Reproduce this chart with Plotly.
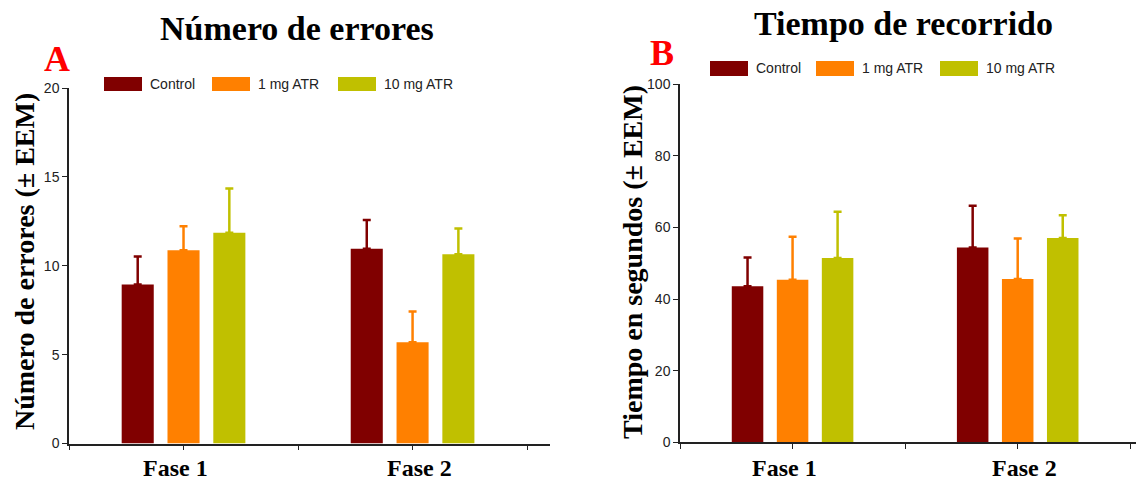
import plotly.graph_objects as go

# ---------------- data ----------------
categories = ["Fase 1", "Fase 2"]
series = ["Control", "1 mg ATR", "10 mg ATR"]
colors = ["#800000", "#FF8000", "#C0C000"]

errores_control = [8.95, 10.95]
errores_1mg = [10.87, 5.70]
errores_10mg = [11.85, 10.65]
errores_sem_control = [1.57, 1.63]
errores_sem_1mg = [1.35, 1.72]
errores_sem_10mg = [2.50, 1.45]

tiempo_control = [43.6, 54.4]
tiempo_1mg = [45.4, 45.6]
tiempo_10mg = [51.5, 57.1]
tiempo_sem_control = [8.0, 11.7]
tiempo_sem_1mg = [12.0, 11.3]
tiempo_sem_10mg = [12.9, 6.3]

errores_means = [errores_control, errores_1mg, errores_10mg]
errores_sems = [errores_sem_control, errores_sem_1mg, errores_sem_10mg]
tiempo_means = [tiempo_control, tiempo_1mg, tiempo_10mg]
tiempo_sems = [tiempo_sem_control, tiempo_sem_1mg, tiempo_sem_10mg]

# ---------------- layout helpers ----------------
# the page body has an 8px margin, so the figure is drawn 8px in from the top-left
OFF = 8
W, H = 1144 - OFF, 480 - OFF
def px(x):
    return (x - OFF) / W
def py(y):
    return 1 - (y - OFF) / H

SERIF = "Liberation Serif, Times New Roman, serif"
SANS = "Liberation Sans, Arial, sans-serif"

xidx = list(range(len(categories)))
label_xshift = [-8, 7]

fig = go.Figure()

for name, col, m, s in zip(series, colors, errores_means, errores_sems):
    fig.add_trace(go.Bar(
        x=xidx, y=m, name=name, marker=dict(color=col, line=dict(width=0)),
        error_y=dict(type="data", array=s, arrayminus=[0] * len(s), symmetric=False,
                     color=col, thickness=2.5, width=4),
        xaxis="x", yaxis="y", showlegend=False,
    ))

for name, col, m, s in zip(series, colors, tiempo_means, tiempo_sems):
    fig.add_trace(go.Bar(
        x=xidx, y=m, name=name, marker=dict(color=col, line=dict(width=0)),
        error_y=dict(type="data", array=s, arrayminus=[0] * len(s), symmetric=False,
                     color=col, thickness=2.5, width=4),
        xaxis="x2", yaxis="y2", showlegend=False,
    ))

boundaries = [i - 0.5 for i in range(len(categories) + 1)]

def xaxis_cfg(domain, rng):
    return dict(
        domain=domain, range=rng, showgrid=False, zeroline=False,
        showline=True, linecolor="#222", linewidth=1.5,
        tickmode="array", tickvals=xidx, showticklabels=False,
        ticks="outside", ticklen=5, tickcolor="#222", tickwidth=1,
        minor=dict(tickvals=boundaries, ticks="outside", ticklen=5,
                   tickcolor="#222", tickwidth=1, showgrid=False),
        automargin=False, fixedrange=True,
    )

def yaxis_cfg(domain, rng, dtick, anchor):
    return dict(
        domain=domain, range=rng, dtick=dtick, anchor=anchor,
        showgrid=False, zeroline=False,
        showline=True, linecolor="#222", linewidth=1.5,
        ticks="outside", ticklen=5, tickcolor="#222", tickwidth=1,
        tickfont=dict(family=SANS, size=14, color="#222"),
        automargin=False, fixedrange=True,
    )

fig.update_layout(
    width=W, height=H, autosize=False,
    margin=dict(l=0, r=0, t=0, b=0, pad=0),
    paper_bgcolor="white", plot_bgcolor="white",
    barmode="group", bargap=0.4, bargroupgap=0.3,
    xaxis=dict(**xaxis_cfg([px(69), px(550)], [-0.5, 1.6]), anchor="y"),
    yaxis=yaxis_cfg([py(443.5), py(88)], [0, 20], 5, "x"),
    xaxis2=dict(**xaxis_cfg([px(680), 1.0], [-0.5, 1.561]), anchor="y2"),
    yaxis2=yaxis_cfg([py(442.3), py(84.3)], [0, 100], 20, "x2"),
)

annotations = []
# category labels under each x axis
for xref in ("x", "x2"):
    for i, cat in enumerate(categories):
        annotations.append(dict(text="<b>%s</b>" % cat, x=xidx[i], xref=xref,
                                y=py(467.5), yref="paper", showarrow=False,
                                xanchor="center", yanchor="middle", xshift=label_xshift[i],
                                font=dict(family=SERIF, size=24, color="black")))
# titles
annotations.append(dict(text="<b>Número de errores</b>", x=px(297), y=py(28),
                        xref="paper", yref="paper", showarrow=False,
                        xanchor="center", yanchor="middle",
                        font=dict(family=SERIF, size=34, color="black")))
annotations.append(dict(text="<b>Tiempo de recorrido</b>", x=px(904), y=py(23),
                        xref="paper", yref="paper", showarrow=False,
                        xanchor="center", yanchor="middle",
                        font=dict(family=SERIF, size=34, color="black")))
# panel letters
annotations.append(dict(text="<b>A</b>", x=px(57), y=py(59), xref="paper", yref="paper",
                        showarrow=False, xanchor="center", yanchor="middle",
                        font=dict(family=SERIF, size=36, color="red")))
annotations.append(dict(text="<b>B</b>", x=px(662), y=py(53), xref="paper", yref="paper",
                        showarrow=False, xanchor="center", yanchor="middle",
                        font=dict(family=SERIF, size=36, color="red")))
# y axis titles
annotations.append(dict(text="<b>Número de errores (± EEM)</b>", x=px(24), y=py(262),
                        xref="paper", yref="paper", showarrow=False, textangle=-90,
                        xanchor="center", yanchor="middle",
                        font=dict(family=SERIF, size=28, color="black")))
annotations.append(dict(text="<b>Tiempo en segundos (± EEM)</b>", x=px(632), y=py(262),
                        xref="paper", yref="paper", showarrow=False, textangle=-90,
                        xanchor="center", yanchor="middle",
                        font=dict(family=SERIF, size=28, color="black")))

# custom legends (one per panel)
shapes = []
legend_specs = [
    ([104, 212, 338], 77, 91),
    ([710, 816, 940], 61, 76),
]
sw = 38
for starts, y0, y1 in legend_specs:
    for name, col, x0 in zip(series, colors, starts):
        shapes.append(dict(type="rect", xref="paper", yref="paper",
                           x0=px(x0), x1=px(x0 + sw), y0=py(y1), y1=py(y0),
                           fillcolor=col, line=dict(width=0)))
        annotations.append(dict(text=name, x=px(x0 + sw + 6), y=py((y0 + y1) / 2),
                                xref="paper", yref="paper", showarrow=False,
                                xanchor="left", yanchor="middle",
                                font=dict(family=SANS, size=14, color="#222")))

fig.update_layout(annotations=annotations, shapes=shapes)

fig.write_html("out.html")
